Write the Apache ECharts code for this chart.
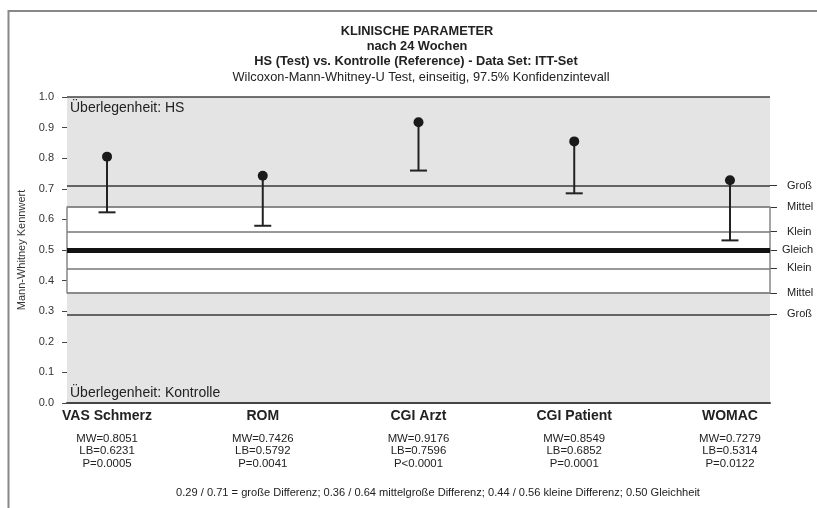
<!DOCTYPE html>
<html lang="de">
<head>
<meta charset="UTF-8">
<title>Klinische Parameter</title>
<style>
    body {margin: 0; background: #fff;}
    #chart {width: 817px; height: 508px;}
</style>
</head>
<body>
<div id="chart"></div>
<script src="https://cdn.jsdelivr.net/npm/echarts@6/dist/echarts.min.js"></script>
<script>
// Daten
const categories = ['VAS Schmerz', 'ROM', 'CGI Arzt', 'CGI Patient', 'WOMAC'];
const mwValues = [0.8051, 0.7426, 0.9176, 0.8549, 0.7279];
const lbValues = [0.6231, 0.5792, 0.7596, 0.6852, 0.5314];
const pTexts = ['P=0.0005', 'P=0.0041', 'P<0.0001', 'P=0.0001', 'P=0.0122'];
const thresholds = [0.71, 0.64, 0.56, 0.5, 0.44, 0.36, 0.29];
const thresholdNames = ['Groß', 'Mittel', 'Klein', 'Gleich', 'Klein', 'Mittel', 'Groß'];

const FONT = '"Liberation Sans", Arial, sans-serif';
const chart = echarts.init(document.getElementById('chart'));

const catIdx = categories.map((c, i) => i);
const barData = catIdx.map(i => [i, mwValues[i], lbValues[i]]);
const pointData = catIdx.map(i => [i, mwValues[i]]);

// Linienstile der Schwellen
const lineStyles = {
    0.71: {color: '#3a3a3a', width: 1.5},
    0.64: {color: '#8a8a8a', width: 2},
    0.56: {color: '#777', width: 1.5},
    0.5: {color: '#111', width: 5},
    0.44: {color: '#777', width: 1.5},
    0.36: {color: '#8a8a8a', width: 2},
    0.29: {color: '#3a3a3a', width: 1.5}
};

const option = {
    animation: false,
    textStyle: {fontFamily: FONT},
    grid: {
        left: 67, right: 47, top: 97, bottom: 105,
        outerBoundsMode: 'none', containLabel: false,
        show: true, backgroundColor: '#e4e4e4', borderWidth: 0
    },
    xAxis: {
        type: 'value', min: -0.257, max: 4.257,
        splitLine: {show: false},
        axisTick: {show: false},
        axisLine: {show: true, onZero: false, lineStyle: {color: '#444', width: 2}},
        axisLabel: {
            customValues: catIdx,
            margin: 3,
            color: '#222',
            formatter: function (v) {
                const i = Math.round(v);
                return '{n|' + categories[i] + '}\n{g|}\n{s|MW=' + mwValues[i].toFixed(4) + '}\n{s|LB=' +
                    lbValues[i].toFixed(4) + '}\n{s|' + pTexts[i] + '}';
            },
            rich: {
                n: {fontSize: 14, fontWeight: 'bold', lineHeight: 20, color: '#222', fontFamily: FONT},
                g: {lineHeight: 6, fontSize: 4},
                s: {fontSize: 11.4, lineHeight: 12.8, color: '#222', fontFamily: FONT}
            }
        }
    },
    yAxis: [{
        type: 'value', min: 0, max: 1, interval: 0.1,
        name: 'Mann-Whitney Kennwert',
        nameLocation: 'middle', nameGap: 34,
        nameTextStyle: {fontSize: 11, color: '#333', fontFamily: FONT},
        axisLine: {show: false, onZero: false},
        axisTick: {show: true, length: 5, lineStyle: {color: '#444'}},
        axisLabel: {fontSize: 11, color: '#333', margin: 13, formatter: v => v.toFixed(1)},
        splitLine: {show: false}
    }, {
        type: 'value', min: 0, max: 1, position: 'right',
        axisLine: {show: false, onZero: false},
        splitLine: {show: false},
        axisTick: {show: true, customValues: thresholds, length: 7, lineStyle: {color: '#333'}},
        axisLabel: {
            customValues: thresholds, fontSize: 11, color: '#222', margin: 12,
            formatter: function (v) {
                const name = thresholdNames[thresholds.indexOf(Math.round(v * 100) / 100)];
                return name === 'Gleich' ? '{g|' + name + '}' : '{p|' + name + '}';
            },
            rich: {
                g: {fontSize: 11, color: '#222', fontFamily: FONT},
                p: {fontSize: 11, color: '#222', fontFamily: FONT, padding: [0, 0, 0, 5]}
            }
        }
    }],
    series: [{
        type: 'custom',
        silent: true,
        data: barData,
        z: 5,
        renderItem: function (params, api) {
            const top = api.coord([api.value(0), api.value(1)]);
            const bot = api.coord([api.value(0), api.value(2)]);
            return {
                type: 'group',
                children: [
                    {type: 'line', shape: {x1: top[0], y1: top[1], x2: bot[0], y2: bot[1]},
                        style: {stroke: '#222', lineWidth: 2}},
                    {type: 'line', shape: {x1: bot[0] - 8.5, y1: bot[1], x2: bot[0] + 8.5, y2: bot[1]},
                        style: {stroke: '#222', lineWidth: 2}}
                ]
            };
        },
        markArea: {
            silent: true,
            itemStyle: {color: '#fff', borderColor: '#888', borderWidth: 1.5},
            data: [[{yAxis: 0.36}, {yAxis: 0.64}]]
        },
        markLine: {
            silent: true,
            symbol: 'none',
            label: {show: false},
            data: [{yAxis: 1, lineStyle: {color: '#444', width: 1.5, type: 'solid'}}].concat(
                thresholds.map(t => ({yAxis: t, lineStyle: Object.assign({type: 'solid'}, lineStyles[t])}))
            )
        }
    }, {
        type: 'scatter',
        data: pointData,
        symbol: 'circle',
        symbolSize: 10,
        z: 6,
        itemStyle: {color: '#1a1a1a', opacity: 1}
    }],
    graphic: [
        {type: 'rect', shape: {x: 8.5, y: 11, width: 820, height: 520}, style: {fill: 'none', stroke: '#888', lineWidth: 2}, silent: true},
        {type: 'text', x: 417, y: 31, style: {text: 'KLINISCHE PARAMETER', font: 'bold 12.8px ' + FONT, fill: '#222', textAlign: 'center', textVerticalAlign: 'middle'}},
        {type: 'text', x: 417, y: 46, style: {text: 'nach 24 Wochen', font: 'bold 12.8px ' + FONT, fill: '#222', textAlign: 'center', textVerticalAlign: 'middle'}},
        {type: 'text', x: 416, y: 61, style: {text: 'HS (Test) vs. Kontrolle (Reference) - Data Set: ITT-Set', font: 'bold 12.8px ' + FONT, fill: '#222', textAlign: 'center', textVerticalAlign: 'middle'}},
        {type: 'text', x: 421, y: 77, style: {text: 'Wilcoxon-Mann-Whitney-U Test, einseitig, 97.5% Konfidenzintevall', font: '12.8px ' + FONT, fill: '#222', textAlign: 'center', textVerticalAlign: 'middle'}},
        {type: 'text', x: 70, y: 108, z: 10, style: {text: 'Überlegenheit: HS', font: '14px ' + FONT, fill: '#222', textVerticalAlign: 'middle'}},
        {type: 'text', x: 70, y: 393, z: 10, style: {text: 'Überlegenheit: Kontrolle', font: '14px ' + FONT, fill: '#222', textVerticalAlign: 'middle'}},
        {type: 'text', x: 438, y: 493, style: {text: '0.29 / 0.71 = große Differenz; 0.36 / 0.64 mittelgroße Differenz; 0.44 / 0.56 kleine Differenz; 0.50 Gleichheit', font: '11.1px ' + FONT, fill: '#222', textAlign: 'center', textVerticalAlign: 'middle'}}
    ]
};

chart.setOption(option);
</script>
</body>
</html>
